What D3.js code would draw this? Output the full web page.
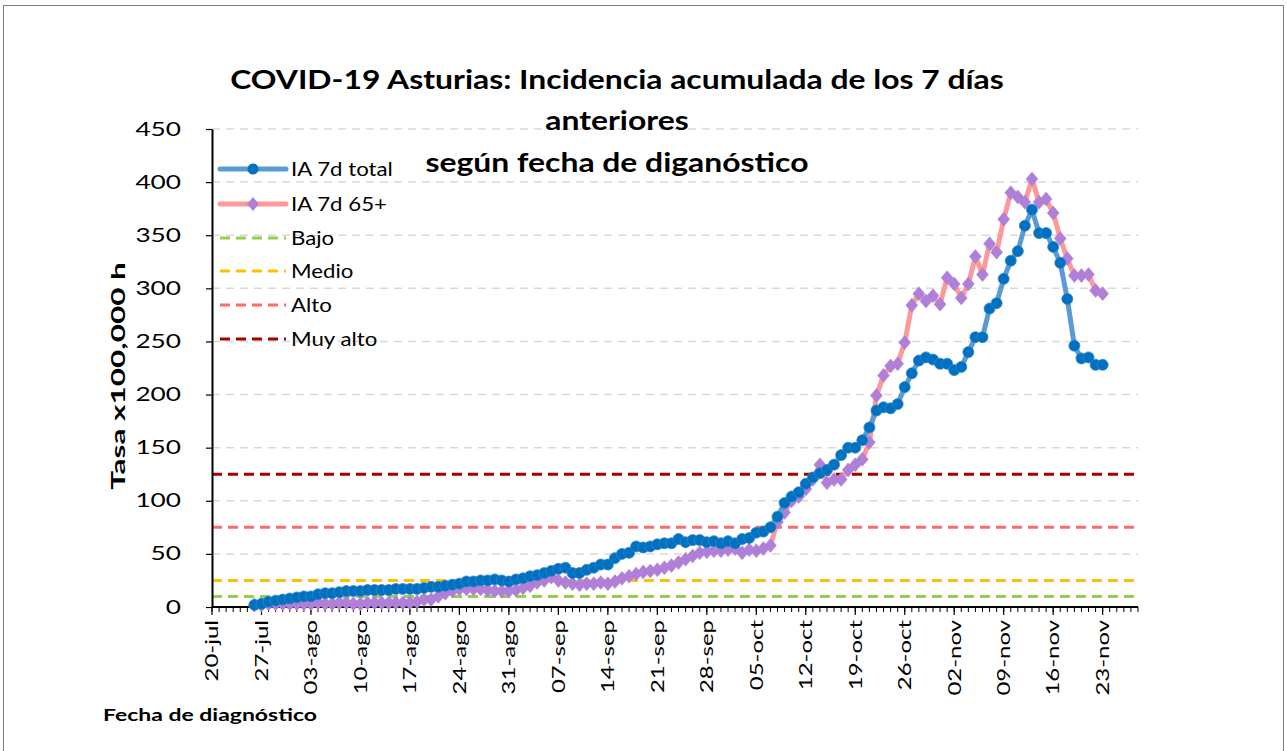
<!DOCTYPE html>
<html><head><meta charset="utf-8">
<script src="https://cdn.jsdelivr.net/npm/d3@7"></script>
<style>body{margin:0;background:#fff}svg{display:block}text{font-family:Lato,"Open Sans",sans-serif}</style>
</head><body><svg id="c" width="1287" height="751"></svg>
<script>
const titleLines = ["COVID-19 Asturias: Incidencia acumulada de los 7 días", "anteriores", "según fecha de diganóstico"];
const startDate = new Date(2020, 6, 26); // 26-jul
const totalValues = [2,3,5,6,7,8,9,10,10,12,13,13,14,15,15,15,16,16,16,16,17,17,17,17,18,19,19,20,21,22,24,24,25,25,26,25,24,26,27,29,30,32,34,36,37,32,32,35,37,40,40,46,50,51,57,56,57,59,60,60,64,61,63,63,61,62,60,62,60,64,65,70,71,75,85,98,104,108,116,122,126,129,134,143,150,150,157,169,185,188,187,191,207,220,232,235,233,229,229,223,226,240,254,254,281,286,309,326,335,359,374,352,352,339,324,290,246,234,235,228,228];
const over65Values = [2,2,3,3,3,3,3,3,3,4,3,3,4,4,3,3,4,4,4,4,4,4,4,5,7,7,10,13,15,17,17,17,17,16,15,15,15,16,18,20,23,25,28,25,23,22,21,22,22,23,22,24,27,29,31,33,34,35,37,39,42,45,48,51,52,53,53,54,55,51,54,53,55,58,80,89,100,104,111,120,134,117,120,120,129,134,139,155,199,218,227,229,249,284,295,288,293,285,310,304,291,304,330,313,342,334,365,390,386,381,403,381,384,371,347,328,312,312,313,298,295];
const seriesNames = ["IA 7d total", "IA 7d 65+"];
const thresholdNames = ["Bajo", "Medio", "Alto", "Muy alto"];
const thresholdValues = [10, 25, 75, 125];
const thresholdColors = ["#92d050", "#ffc000", "#ff6b6b", "#a50000"];
const yTicks = [0,50,100,150,200,250,300,350,400,450];
const xTickLabels = ["20-jul","27-jul","03-ago","10-ago","17-ago","24-ago","31-ago","07-sep","14-sep","21-sep","28-sep","05-oct","12-oct","19-oct","26-oct","02-nov","09-nov","16-nov","23-nov"];
const yTitle = "Tasa x100,000 h";
const xTitle = "Fecha de diagnóstico";

function stretch(sel, f) {
  sel.each(function() {
    const w = this.getComputedTextLength();
    d3.select(this).attr("textLength", w * f).attr("lengthAdjust", "spacingAndGlyphs");
  });
}

const svg = d3.select("#c");
svg.append("rect").attr("x",3.5).attr("y",5.5).attr("width",1280).attr("height",800)
  .attr("fill","#fff").attr("stroke","#7f7f7f").attr("stroke-width",1);

const L = 212, R = 1138, T = 129, B = 607;
const axisStart = new Date(2020, 6, 20), axisEnd = new Date(2020, 10, 28);
const x = d3.scaleTime().domain([axisStart, axisEnd]).range([L, R]);
const y = d3.scaleLinear().domain([0, 450]).range([B, T]);

// gridlines
svg.append("g").selectAll("line").data(yTicks.slice(1)).join("line")
  .attr("x1", L).attr("x2", R).attr("y1", d => y(d)).attr("y2", d => y(d))
  .attr("stroke", "#d9d9d9").attr("stroke-width", 1.5).attr("stroke-dasharray", "8,6");

// thresholds
svg.append("g").selectAll("line").data(thresholdValues).join("line")
  .attr("x1", L).attr("x2", R).attr("y1", d => y(d)).attr("y2", d => y(d))
  .attr("stroke", (d,i) => thresholdColors[i]).attr("stroke-width", 3).attr("stroke-dasharray", "10,6");

// y axis
const yAxis = svg.append("g").attr("transform", `translate(${L},0)`)
  .call(d3.axisLeft(y).tickValues(yTicks).tickSize(6).tickPadding(25).tickSizeOuter(0));
yAxis.select(".domain").attr("stroke", "#000").attr("stroke-width", 2);
yAxis.selectAll(".tick line").attr("stroke", "#000").attr("stroke-width", 1.2);
yAxis.selectAll("text").attr("font-size", 19).attr("fill", "#000").call(stretch, 1.38);

// x axis
const days = d3.timeDay.range(axisStart, d3.timeDay.offset(axisEnd, 1));
const majorDates = xTickLabels.map((l, i) => d3.timeDay.offset(axisStart, i * 7));
const xa = svg.append("g");
xa.append("line").attr("x1", L).attr("x2", R).attr("y1", B).attr("y2", B).attr("stroke", "#000").attr("stroke-width", 2);
xa.selectAll("line.minor").data(days).join("line").attr("class","minor")
  .attr("x1", d => x(d)).attr("x2", d => x(d)).attr("y1", B).attr("y2", B + 5)
  .attr("stroke", "#000").attr("stroke-width", 1);
xa.selectAll("line.major").data(majorDates).join("line").attr("class","major")
  .attr("x1", d => x(d)).attr("x2", d => x(d)).attr("y1", B).attr("y2", B + 8)
  .attr("stroke", "#000").attr("stroke-width", 1.2);
xa.selectAll("text").data(majorDates).join("text")
  .attr("transform", d => `translate(${x(d)},${B + 13}) rotate(-90)`)
  .attr("text-anchor", "end").attr("dy", "0.35em").attr("font-size", 18)
  .text((d, i) => xTickLabels[i]).call(stretch, 1.33);

// series
const dates = totalValues.map((v, i) => d3.timeDay.offset(startDate, i));
const line = d3.line().x((d, i) => x(dates[i])).y(d => y(d));
svg.append("path").datum(over65Values).attr("d", line).attr("fill","none")
  .attr("stroke", "#ff9999").attr("stroke-width", 5).attr("stroke-linejoin","round");
svg.append("g").selectAll("path").data(over65Values).join("path")
  .attr("d", "M0,-7L6,0L0,7L-6,0Z")
  .attr("transform", (d, i) => `translate(${x(dates[i])},${y(d)})`)
  .attr("fill", "#b07fd8").attr("stroke", "#b07fd8").attr("stroke-width", 0.5);
svg.append("path").datum(totalValues).attr("d", line).attr("fill","none")
  .attr("stroke", "#5b9bd5").attr("stroke-width", 5).attr("stroke-linejoin","round");
svg.append("g").selectAll("circle").data(totalValues).join("circle")
  .attr("cx", (d, i) => x(dates[i])).attr("cy", d => y(d)).attr("r", 5.5)
  .attr("fill", "#0070c0").attr("stroke", "#2e86c9").attr("stroke-width", 0.8);

// legend
const lg = svg.append("g");
const rowsY = [169, 204, 238, 271, 305, 339];
const lx1 = 220, lx2 = 286;
lg.append("line").attr("x1",lx1).attr("x2",lx2).attr("y1",rowsY[0]).attr("y2",rowsY[0]).attr("stroke","#5b9bd5").attr("stroke-width",5).attr("stroke-linecap","round");
lg.append("circle").attr("cx",(lx1+lx2)/2).attr("cy",rowsY[0]).attr("r",5.5).attr("fill","#0070c0");
lg.append("line").attr("x1",lx1).attr("x2",lx2).attr("y1",rowsY[1]).attr("y2",rowsY[1]).attr("stroke","#ff9999").attr("stroke-width",5).attr("stroke-linecap","round");
lg.append("path").attr("d","M0,-7L6,0L0,7L-6,0Z").attr("transform",`translate(${(lx1+lx2)/2},${rowsY[1]})`).attr("fill","#b07fd8");
thresholdNames.forEach((n, i) => {
  lg.append("line").attr("x1",lx1).attr("x2",lx2).attr("y1",rowsY[i+2]).attr("y2",rowsY[i+2])
    .attr("stroke",thresholdColors[i]).attr("stroke-width",3).attr("stroke-dasharray","10,6");
});
seriesNames.concat(thresholdNames).forEach((n, i) => {
  lg.append("text").attr("x", 291).attr("y", rowsY[i]).attr("dy","0.35em").attr("font-size",19).text(n).call(stretch, 1.17);
});

// titles
const tY = [80, 121, 163];
titleLines.forEach((t, i) => {
  svg.append("text").attr("x", 617).attr("y", tY[i]).attr("dy","0.35em").attr("text-anchor","middle")
    .attr("font-size", 27).attr("font-weight","bold").text(t).call(stretch, 1.18);
});
svg.append("text").attr("transform","translate(119,376) rotate(-90)").attr("text-anchor","middle")
  .attr("dy","0.35em").attr("font-size",18).attr("font-weight","bold").text(yTitle).call(stretch, 1.75);
svg.append("text").attr("x",103).attr("y",715).attr("dy","0.35em").attr("font-size",17)
  .attr("font-weight","bold").text(xTitle).call(stretch, 1.35);
</script></body></html>
